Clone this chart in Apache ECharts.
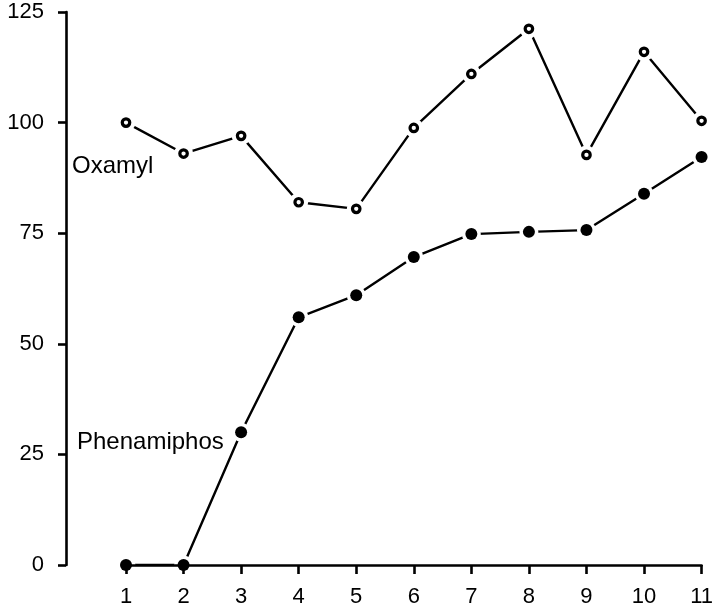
<!DOCTYPE html>
<html>
<head>
<meta charset="utf-8">
<script src="https://cdn.jsdelivr.net/npm/echarts@6/dist/echarts.min.js"></script>
<style>
  html, body { margin: 0; padding: 0; background: #ffffff; }
  #chart { width: 716px; height: 615px; }
</style>
</head>
<body>
<div id="chart"></div>
<script>
// Sampling occasions along the horizontal axis
const occasions = ['1', '2', '3', '4', '5', '6', '7', '8', '9', '10', '11'];

// Response values for each nematicide
const oxamyl = [100, 93, 97, 82, 80.5, 98.8, 111, 121.2, 92.7, 116, 100.4];
const phenamiphos = [0, 0, 30, 56, 61, 69.6, 74.8, 75.3, 75.7, 83.9, 92.2];

// Vertical scale
const yMin = 0;
const yMax = 125;
const yStep = 25;

const FONT = '"Liberation Sans", Arial, Helvetica, sans-serif';
const INK = '#000000';

const chart = echarts.init(document.getElementById('chart'), null, { renderer: 'canvas' });

// Each curve: a plain line, a white halo that opens a small gap round every point,
// then the point markers on top.
function curve(name, values, marker) {
  return [
    {
      name: name,
      type: 'line',
      data: values,
      showSymbol: false,
      silent: true,
      z: 1,
      lineStyle: { color: INK, width: 2.4, opacity: 1 }
    },
    {
      name: name + ' halo',
      type: 'scatter',
      data: values,
      symbol: 'circle',
      symbolSize: 19,
      silent: true,
      z: 2,
      itemStyle: { color: '#ffffff', opacity: 1 }
    },
    Object.assign({
      name: name + ' points',
      type: 'scatter',
      data: values,
      symbol: 'circle',
      silent: true,
      z: 4
    }, marker)
  ];
}

const option = {
  animation: false,
  backgroundColor: '#ffffff',
  grid: { left: 126, right: 12, top: 12, bottom: 50, containLabel: false },
  xAxis: {
    type: 'category',
    data: occasions,
    boundaryGap: false,
    z: 3,
    axisLine: { show: true, lineStyle: { color: INK, width: 2.6 } },
    axisTick: { show: true, length: 9, lineStyle: { color: INK, width: 2.6 } },
    axisLabel: { color: INK, fontSize: 22, fontFamily: FONT, margin: 21 },
    splitLine: { show: false }
  },
  yAxis: {
    type: 'value',
    min: yMin,
    max: yMax,
    interval: yStep,
    offset: 60,
    axisLine: { show: true, lineStyle: { color: INK, width: 2.6 } },
    axisTick: { show: true, length: 8, lineStyle: { color: INK, width: 2.6 } },
    axisLabel: { color: INK, fontSize: 22, fontFamily: FONT, margin: 22 },
    splitLine: { show: false }
  },
  series: [].concat(
    curve('Oxamyl', oxamyl, {
      symbolSize: 7.5,
      itemStyle: { color: '#ffffff', borderColor: INK, borderWidth: 3.2, opacity: 1 }
    }),
    curve('Phenamiphos', phenamiphos, {
      symbolSize: 12,
      itemStyle: { color: INK, opacity: 1 }
    })
  ),
  graphic: [
    {
      type: 'text',
      x: 72, y: 166,
      silent: true,
      style: { text: 'Oxamyl', fill: INK, font: '24px ' + FONT, textVerticalAlign: 'middle', verticalAlign: 'middle' }
    },
    {
      type: 'text',
      x: 77, y: 442,
      silent: true,
      style: { text: 'Phenamiphos', fill: INK, font: '24px ' + FONT, textVerticalAlign: 'middle', verticalAlign: 'middle' }
    }
  ]
};

chart.setOption(option);
</script>
</body>
</html>
